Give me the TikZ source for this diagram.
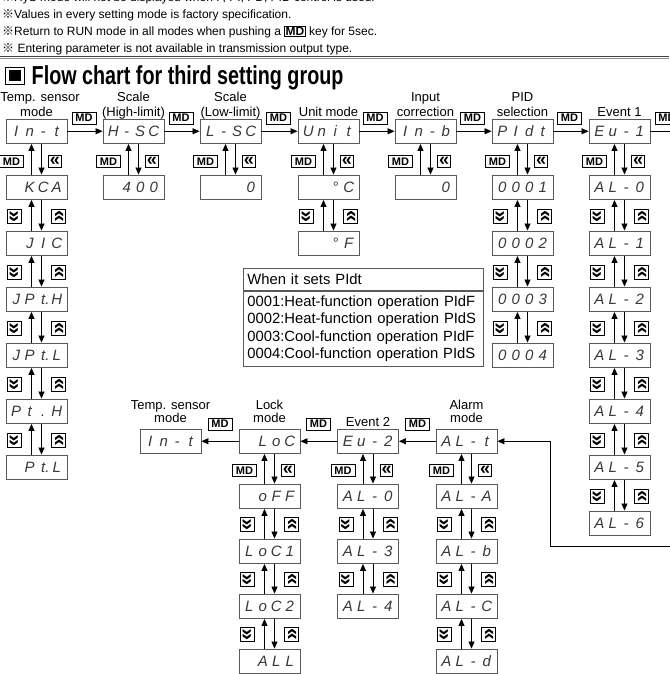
\documentclass[tikz,border=0pt]{standalone}
\usepackage{fontspec}
\usepackage{graphicx}
\setmainfont{Liberation Sans}
\newfontfamily\cjkf{Noto Sans CJK JP}
\newfontfamily\segf{Liberation Sans}
\usetikzlibrary{arrows.meta,calc}
\newcommand{\segs}[4]{\makebox[13.5pt]{#1}\makebox[13.5pt]{#2}\makebox[13.5pt]{#3}\makebox[13.5pt]{#4}}
\newcommand{\rmk}{{\cjkf ※}}
\newcommand{\mdin}{{\setlength{\fboxsep}{0.6pt}\setlength{\fboxrule}{0.8pt}\fbox{\bfseries MD}}}
\newcommand{\dnglyph}{\raisebox{-1pt}{\rotatebox{90}{«}}}
\newcommand{\upglyph}{\raisebox{0pt}{\rotatebox{-90}{«}}}
\tikzset{
 disp/.style={draw=black!65, line width=0.9pt, minimum width=61pt, minimum height=24.5pt, inner sep=0pt, text height=10.7pt, text depth=0pt, font=\segf\itshape\fontsize{15}{15}\selectfont, text=black!78},
 mdkey/.style={draw, line width=0.8pt, inner sep=0pt, minimum width=24pt, minimum height=12pt, font=\bfseries\fontsize{11}{11}\selectfont},
 lkey/.style={draw, line width=0.8pt, inner sep=0pt, minimum width=12.5pt, minimum height=12pt, font=\bfseries\fontsize{18}{18}\selectfont},
 ukey/.style={draw, line width=0.8pt, inner sep=0pt, minimum size=14pt, font=\bfseries\fontsize{21}{21}\selectfont},
 arr/.style={draw, line width=0.8pt, -{Triangle[length=7pt,width=6pt]}},
 lbl/.style={font=\fontsize{13}{13}\selectfont, inner sep=0pt, anchor=base},
 note/.style={font=\fontsize{12}{12}\selectfont, inner sep=0pt, anchor=base west},
 tbl/.style={draw=black!65, line width=0.8pt, inner xsep=4pt, inner ysep=0pt, text width=232pt, align=left, anchor=north west, font=\fontsize{14.8}{17.6}\selectfont},
}
\newcommand{\firstlink}[2]{%
 \draw[arr] ([xshift=-5pt]#2.north) -- ([xshift=-5pt]#1.south);
 \draw[arr] ([xshift=5pt]#1.south) -- ([xshift=5pt]#2.north);
 \node[mdkey] (#1-md) at ($(#1.south)!.5!(#2.north)+(-25,2)$) {MD};
 \node[lkey] (#1-bk) at ($(#1.south)!.5!(#2.north)+(18.5,2)$) {«};
}
\newcommand{\nextlink}[2]{%
 \draw[arr] ([xshift=-5pt]#2.north) -- ([xshift=-5pt]#1.south);
 \draw[arr] ([xshift=5pt]#1.south) -- ([xshift=5pt]#2.north);
 \node[ukey] (#1-dn) at ($(#1.south)!.5!(#2.north)+(-22,1)$) {\dnglyph};
 \node[ukey] (#1-up) at ($(#1.south)!.5!(#2.north)+(22,1)$) {\upglyph};
}
\begin{document}
\begin{tikzpicture}[x=1pt,y=-1pt]
\fill[white] (0,0) rectangle (669,674);
\useasboundingbox (0,0) rectangle (669,674);
% notes
\node[note] (n1) at (2,1.5) {\rmk HyS mode will not be displayed when P, PI, PD, PID control is used.};
\node[note] (n2) at (2,18.5) {\rmk Values in every setting mode is factory specification.};
\node[note] (n3) at (2,35.5) {\rmk Return to RUN mode in all modes when pushing a \mdin{} key for 5sec.};
\node[note] (n4) at (2,52.5) {\rmk\ Entering parameter is not available in transmission output type.};
\draw[black!75, line width=1.5pt] (0,56.3) -- (669,56.3);
\draw[black!45, line width=0.9pt] (0,58.6) -- (669,58.6);
% title
\node[draw, line width=1.4pt, minimum width=19pt, minimum height=17.5pt, inner sep=0pt] (ticon) at (15,76) {\rule{11.5pt}{11pt}};
\node[anchor=base west, inner sep=0pt, font=\bfseries\fontsize{26}{26}\selectfont] (title) at (31.5,84.5) {\scalebox{0.76}[1]{Flow chart for third setting group}};
% top labels
\node[lbl] (l1a) at (40,101.5) {Temp. sensor};
\node[lbl] (l1b) at (36.5,116.5) {mode};
\node[lbl] (l2a) at (133.5,101.5) {Scale};
\node[lbl] (l2b) at (133.5,116.5) {(High-limit)};
\node[lbl] (l3a) at (230.5,101.5) {Scale};
\node[lbl] (l3b) at (230.5,116.5) {(Low-limit)};
\node[lbl] (l4b) at (328.5,116.5) {Unit mode};
\node[lbl] (l5a) at (425.5,101.5) {Input};
\node[lbl] (l5b) at (425.5,116.5) {correction};
\node[lbl] (l6a) at (522.5,101.5) {PID};
\node[lbl] (l6b) at (522.5,116.5) {selection};
\node[lbl] (l7b) at (619.5,116.5) {Event 1};
% top row boxes
\node[disp] (a1) at (36.5,131.25) {\segs{I}{n}{-}{t}};
\node[disp] (a1b) at (36.5,187.25) {\segs{}{K}{C}{A}};
\node[disp] (a1c) at (36.5,243.25) {\segs{}{J}{I}{C}};
\node[disp] (a1d) at (36.5,299.25) {\segs{J}{P}{t\rlap{.}}{H}};
\node[disp] (a1e) at (36.5,355.25) {\segs{J}{P}{t\rlap{.}}{L}};
\node[disp] (a1f) at (36.5,411.25) {\segs{P}{t}{.}{H}};
\node[disp] (a1g) at (36.5,467.25) {\segs{}{P}{t\rlap{.}}{L}};
\node[disp] (a2) at (133.5,131.25) {\segs{H}{-}{S}{C}};
\node[disp] (a2b) at (133.5,187.25) {\segs{}{4}{0}{0}};
\node[disp] (a3) at (230.5,131.25) {\segs{L}{-}{S}{C}};
\node[disp] (a3b) at (230.5,187.25) {\segs{}{}{}{0}};
\node[disp] (a4) at (328.5,131.25) {\segs{U}{n}{i}{t}};
\node[disp] (a4b) at (328.5,187.25) {\segs{}{}{°}{C}};
\node[disp] (a4c) at (328.5,243.25) {\segs{}{}{°}{F}};
\node[disp] (a5) at (425.5,131.25) {\segs{I}{n}{-}{b}};
\node[disp] (a5b) at (425.5,187.25) {\segs{}{}{}{0}};
\node[disp] (a6) at (522.5,131.25) {\segs{P}{I}{d}{t}};
\node[disp] (a6b) at (522.5,187.25) {\segs{0}{0}{0}{1}};
\node[disp] (a6c) at (522.5,243.25) {\segs{0}{0}{0}{2}};
\node[disp] (a6d) at (522.5,299.25) {\segs{0}{0}{0}{3}};
\node[disp] (a6e) at (522.5,355.25) {\segs{0}{0}{0}{4}};
\node[disp] (a7) at (619.5,131.25) {\segs{E}{u}{-}{1}};
\node[disp] (a7b) at (619.5,187.25) {\segs{A}{L}{-}{0}};
\node[disp] (a7c) at (619.5,243.25) {\segs{A}{L}{-}{1}};
\node[disp] (a7d) at (619.5,299.25) {\segs{A}{L}{-}{2}};
\node[disp] (a7e) at (619.5,355.25) {\segs{A}{L}{-}{3}};
\node[disp] (a7f) at (619.5,411.25) {\segs{A}{L}{-}{4}};
\node[disp] (a7g) at (619.5,467.25) {\segs{A}{L}{-}{5}};
\node[disp] (a7h) at (619.5,523.25) {\segs{A}{L}{-}{6}};
% top row horizontal
\coordinate (nextcol) at (690,131.25);
\draw[arr] (a1.east) -- (a2.west);
\draw[arr] (a2.east) -- (a3.west);
\draw[arr] (a3.east) -- (a4.west);
\draw[arr] (a4.east) -- (a5.west);
\draw[arr] (a5.east) -- (a6.west);
\draw[arr] (a6.east) -- (a7.west);
\draw[arr] (a7.east) -- (nextcol);
\node[mdkey] (h12) at (84,118) {MD};
\node[mdkey] (h23) at (181,118) {MD};
\node[mdkey] (h34) at (278.5,118) {MD};
\node[mdkey] (h45) at (375,118) {MD};
\node[mdkey] (h56) at (472.5,118) {MD};
\node[mdkey] (h67) at (569.5,118) {MD};
\node[mdkey] (h78) at (667,118) {MD};
% top chains
\firstlink{a1}{a1b}
\nextlink{a1b}{a1c}
\nextlink{a1c}{a1d}
\nextlink{a1d}{a1e}
\nextlink{a1e}{a1f}
\nextlink{a1f}{a1g}
\firstlink{a2}{a2b}
\firstlink{a3}{a3b}
\firstlink{a4}{a4b}
\nextlink{a4b}{a4c}
\firstlink{a5}{a5b}
\firstlink{a6}{a6b}
\nextlink{a6b}{a6c}
\nextlink{a6c}{a6d}
\nextlink{a6d}{a6e}
\firstlink{a7}{a7b}
\nextlink{a7b}{a7c}
\nextlink{a7c}{a7d}
\nextlink{a7d}{a7e}
\nextlink{a7e}{a7f}
\nextlink{a7f}{a7g}
\nextlink{a7g}{a7h}
% table
\node[tbl, minimum height=22pt] (th) at (243,268) {When it sets PIdt};
\node[tbl, minimum height=75pt] (tb) at (th.south west) {0001:Heat-function operation PIdF\\0002:Heat-function operation PIdS\\0003:Cool-function operation PIdF\\0004:Cool-function operation PIdS};
% lower labels
\node[lbl] (m1a) at (170.5,409.5) {Temp. sensor};
\node[lbl] (m1b) at (170.5,422.5) {mode};
\node[lbl] (m2a) at (269.5,409.5) {Lock};
\node[lbl] (m2b) at (269.5,422.5) {mode};
\node[lbl] (m3b) at (368,426.5) {Event 2};
\node[lbl] (m4a) at (466.5,409.5) {Alarm};
\node[lbl] (m4b) at (466.5,422.5) {mode};
% lower boxes
\node[disp] (b1) at (170.5,441.25) {\segs{I}{n}{-}{t}};
\node[disp] (b2) at (269.5,441.25) {\segs{}{L}{o}{C}};
\node[disp] (b2b) at (269.5,496.25) {\segs{}{o}{F}{F}};
\node[disp] (b2c) at (269.5,551.25) {\segs{L}{o}{C}{1}};
\node[disp] (b2d) at (269.5,606.25) {\segs{L}{o}{C}{2}};
\node[disp] (b2e) at (269.5,661.25) {\segs{}{A}{L}{L}};
\node[disp] (b3) at (368,441.25) {\segs{E}{u}{-}{2}};
\node[disp] (b3b) at (368,496.25) {\segs{A}{L}{-}{0}};
\node[disp] (b3c) at (368,551.25) {\segs{A}{L}{-}{3}};
\node[disp] (b3d) at (368,606.25) {\segs{A}{L}{-}{4}};
\node[disp] (b4) at (466.5,441.25) {\segs{A}{L}{-}{t}};
\node[disp] (b4b) at (466.5,496.25) {\segs{A}{L}{-}{A}};
\node[disp] (b4c) at (466.5,551.25) {\segs{A}{L}{-}{b}};
\node[disp] (b4d) at (466.5,606.25) {\segs{A}{L}{-}{C}};
\node[disp] (b4e) at (466.5,661.25) {\segs{A}{L}{-}{d}};
% lower horizontal
\draw[arr] (b4.west) -- (b3.east);
\draw[arr] (b3.west) -- (b2.east);
\draw[arr] (b2.west) -- (b1.east);
\node[mdkey] (g43) at (417.5,424) {MD};
\node[mdkey] (g32) at (318.5,424) {MD};
\node[mdkey] (g21) at (220,424) {MD};
% return line
\coordinate (retin) at (690,546);
\coordinate (retc) at (550,546);
\draw[arr] (retin) -- (retc) |- (b4.east);
% lower chains
\firstlink{b2}{b2b}
\nextlink{b2b}{b2c}
\nextlink{b2c}{b2d}
\nextlink{b2d}{b2e}
\firstlink{b3}{b3b}
\nextlink{b3b}{b3c}
\nextlink{b3c}{b3d}
\firstlink{b4}{b4b}
\nextlink{b4b}{b4c}
\nextlink{b4c}{b4d}
\nextlink{b4d}{b4e}
\end{tikzpicture}
\end{document}
